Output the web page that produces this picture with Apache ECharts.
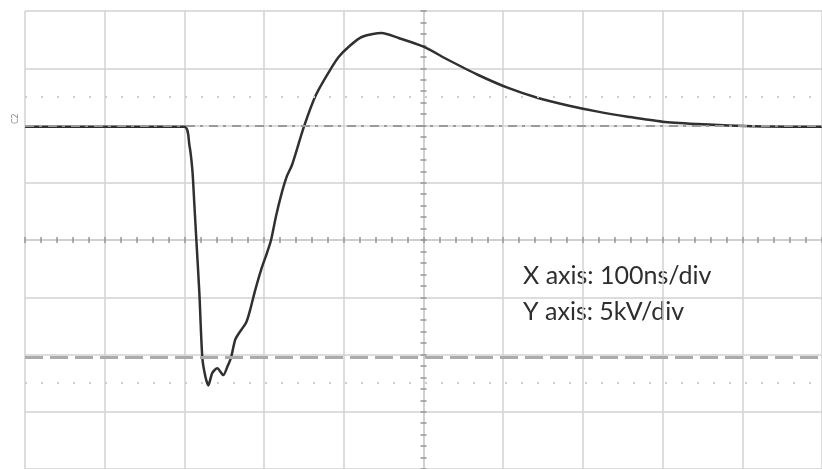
<!DOCTYPE html>
<html>
<head>
<meta charset="utf-8">
<script src="https://cdn.jsdelivr.net/npm/echarts@6/dist/echarts.min.js"></script>
<style>
html,body{margin:0;padding:0;background:#fff;}
#chart{width:822px;height:469px;}
</style>
</head>
<body>
<div id="chart"></div>
<script>
// Time in ns (100 ns/div), voltage in kV (5 kV/div)
const timesNs = [-500, -300, -293.75, -290, -287.5, -285, -281.25, -277.5, -273.75, -270,
  -265, -258.75, -251.25, -246.25, -241.25, -236.25, -231.25, -222.5, -217.5, -211.25,
  -203.75, -196.25, -191.25, -185, -177.5, -171.25, -165, -150, -135, -118.75,
  -106.25, -93.75, -77.5, -52.5, -31.25, 0, 31.25, 68.75, 106.25, 143.75,
  181.25, 218.75, 256.25, 300, 343.75, 393.75, 456.25, 500];
const voltsKv = [-0.1, -0.1, -1.7, -3.9, -6.9, -10.0, -14.6, -20.3, -21.9, -22.7,
  -21.6, -21.2, -21.8, -21.1, -20.2, -18.7, -18.1, -17.2, -16.1, -14.4,
  -12.6, -11.1, -10.0, -7.9, -5.8, -4.4, -3.45, -0.1, 2.66, 4.67,
  6.0, 6.88, 7.73, 8.08, 7.64, 6.88, 5.72, 4.41, 3.28, 2.40,
  1.75, 1.21, 0.77, 0.33, 0.13, -0.02, -0.1, -0.1];
const groundLevelKv = 0;
const cursorLevelKv = -20.2;
const dottedLevelsKv = [2.5, -22.5];
const noteLines = ['X axis: 100ns/div', 'Y axis: 5kV/div'];
const channelLabel = 'C2';

const chart = echarts.init(document.getElementById('chart'), null, {renderer: 'canvas'});
const gridColor = '#d2d2d2';
const hidden = {show: false};

function centerX(inside) {
  return {
    type: 'value', min: -500, max: 500, interval: 20,
    axisLine: {show: true, onZero: true, onZeroAxisIndex: 1, lineStyle: {color: '#cfcfcf', width: 1.5}},
    axisTick: {show: true, inside: inside, length: 3, lineStyle: {color: '#959595', width: 1.5}},
    axisLabel: hidden, splitLine: hidden
  };
}
function centerY(inside) {
  return {
    type: 'value', min: -20, max: 20, interval: 1,
    axisLine: {show: true, onZero: true, onZeroAxisIndex: 1, lineStyle: {color: '#cfcfcf', width: 1.5}},
    axisTick: {show: true, inside: inside, length: 3, lineStyle: {color: '#959595', width: 1.5}},
    axisLabel: hidden, splitLine: hidden
  };
}

const option = {
  backgroundColor: '#ffffff',
  animation: false,
  grid: {left: 25, top: 11, right: -3, bottom: 0},
  xAxis: [
    {
      type: 'value', min: -500, max: 500, interval: 100,
      axisLine: hidden, axisTick: hidden, axisLabel: hidden,
      splitLine: {show: true, lineStyle: {color: gridColor, width: 1.5}}
    },
    centerX(false),
    centerX(true)
  ],
  yAxis: [
    {
      type: 'value', min: -30, max: 10, interval: 5,
      axisLine: hidden, axisTick: hidden, axisLabel: hidden,
      splitLine: {show: true, lineStyle: {color: gridColor, width: 1.5}}
    },
    centerY(false),
    centerY(true)
  ],
  series: [
    {
      type: 'line', data: [], z: 1, silent: true,
      markLine: {
        silent: true, symbol: 'none', label: hidden,
        data: [
          {yAxis: groundLevelKv, lineStyle: {color: '#9a9a9a', width: 2, type: [9, 5, 3, 6]}},
          {yAxis: cursorLevelKv, lineStyle: {color: '#ababab', width: 3, type: [18, 7]}}
        ].concat(dottedLevelsKv.map(v => ({yAxis: v, lineStyle: {color: '#cccccc', width: 2, type: [2, 14]}})))
      }
    },
    {
      type: 'line', z: 3, silent: true,
      data: timesNs.map((t, i) => [t, voltsKv[i]]),
      showSymbol: false, symbol: 'none', smooth: 0.25,
      lineStyle: {color: '#303030', width: 2.5}
    }
  ],
  graphic: [
    {type: 'text', left: 523, top: 263, style: {text: noteLines[0], font: '25px Lato, "Open Sans", sans-serif', fill: '#2e2e2e'}},
    {type: 'text', left: 523, top: 299, style: {text: noteLines[1], font: '25px Lato, "Open Sans", sans-serif', fill: '#2e2e2e'}},
    {type: 'text', x: 12, y: 124, rotation: Math.PI / 2, style: {text: channelLabel, font: '8px "DejaVu Sans", sans-serif', fill: '#888888'}}
  ]
};
chart.setOption(option);
</script>
</body>
</html>
